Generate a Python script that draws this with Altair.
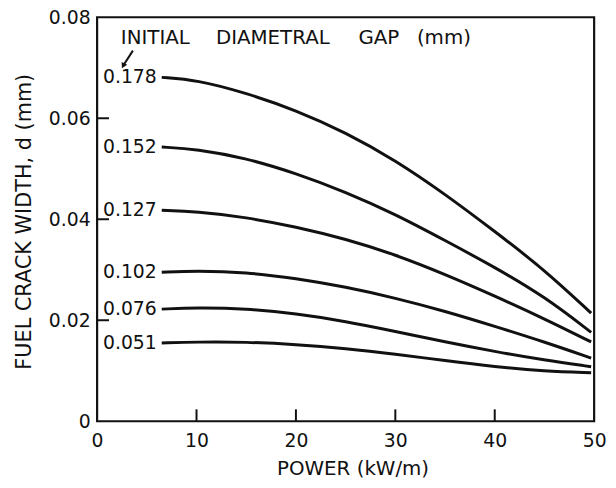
import altair as alt
import pandas as pd

# ---- data ----
power = [6.5, 10, 15, 20, 25, 30, 35, 40, 45, 49.7]
gaps = ["0.178", "0.152", "0.127", "0.102", "0.076", "0.051"]
w_178 = [0.0681, 0.0676, 0.0650, 0.0616, 0.0572, 0.0517, 0.0450, 0.0376, 0.0300, 0.0214]
w_152 = [0.0543, 0.0539, 0.0521, 0.0491, 0.0454, 0.0410, 0.0358, 0.0305, 0.0247, 0.0176]
w_127 = [0.0418, 0.0415, 0.0404, 0.0385, 0.0361, 0.0330, 0.0291, 0.0248, 0.0203, 0.0157]
w_102 = [0.0295, 0.0298, 0.0295, 0.0283, 0.0266, 0.0244, 0.0218, 0.0188, 0.0157, 0.0125]
w_076 = [0.0222, 0.0225, 0.0223, 0.0213, 0.0198, 0.0178, 0.0157, 0.0138, 0.0121, 0.0108]
w_051 = [0.0155, 0.0157, 0.0157, 0.0152, 0.0144, 0.0133, 0.0120, 0.0108, 0.0099, 0.0096]
series = [w_178, w_152, w_127, w_102, w_076, w_051]

x_ticks = [10, 20, 30, 40]
y_ticks = [0.02, 0.04, 0.06]

ann_words = ["INITIAL", "DIAMETRAL", "GAP", "(mm)"]
ann_x = [2.39, 11.95, 26.29, 32.17]
ann_y = [0.0747, 0.0747, 0.0747, 0.0747]

arrow_x = [3.6, 2.62]
arrow_y = [0.0734, 0.0704]

FONT = "DejaVu Sans"

rows = []
for g, vals in zip(gaps, series):
    for p, v in zip(power, vals):
        rows.append({"gap": g, "power": p, "width": v})
df = pd.DataFrame(rows)

lab_df = pd.DataFrame({"gap": gaps, "power": [power[0]] * len(gaps),
                       "width": [s[0] for s in series]})
ann_df = pd.DataFrame({"word": ann_words, "x": ann_x, "y": ann_y})
arrow_df = pd.DataFrame({"x": [arrow_x[0]], "y": [arrow_y[0]],
                         "x2": [arrow_x[1]], "y2": [arrow_y[1]]})
head_df = pd.DataFrame({"x": [arrow_x[1]], "y": [arrow_y[1]]})
xt_df = pd.DataFrame({"v": x_ticks})
yt_df = pd.DataFrame({"v": y_ticks})

xscale = alt.Scale(domain=[0, 50], nice=False, zero=False)
yscale = alt.Scale(domain=[0, 0.08], nice=False, zero=False)

xaxis = alt.Axis(
    values=[0, 10, 20, 30, 40, 50], format="d", grid=False, domain=False,
    ticks=False, tickSize=0, labelFont=FONT, labelFontSize=19,
    labelColor="#111", labelPadding=11, labelFlush=False,
    title="POWER (kW/m)", titleFont=FONT, titleFontSize=20,
    titleFontWeight="normal", titleColor="#111",
    titleBaseline="alphabetic", titleY=54, titleX=258,
)
yaxis = alt.Axis(
    values=[0, 0.02, 0.04, 0.06, 0.08], grid=False, domain=False,
    ticks=False, tickSize=0, labelFont=FONT, labelFontSize=19,
    labelColor="#111", labelPadding=7, labelFlush=False,
    labelExpr="datum.value == 0 ? '0' : format(datum.value, '.2f')",
    title="FUEL CRACK WIDTH, d (mm)", titleFont=FONT, titleFontSize=21,
    titleFontWeight="normal", titleColor="#111", titleAngle=270,
    titleBaseline="middle", titleAlign="center", titleX=-73, titleY=206,
)

base = alt.Chart(df)

lines = base.mark_line(color="#111", strokeWidth=3, interpolate="basis").encode(
    x=alt.X("power:Q", scale=xscale, axis=xaxis),
    y=alt.Y("width:Q", scale=yscale, axis=yaxis),
    detail="gap:N",
)

labels = alt.Chart(lab_df).mark_text(
    align="right", baseline="middle", dx=-5, font=FONT, fontSize=19, color="#111"
).encode(
    x=alt.X("power:Q", scale=xscale),
    y=alt.Y("width:Q", scale=yscale),
    text="gap:N",
)

ann = alt.Chart(ann_df).mark_text(
    align="left", baseline="alphabetic", font=FONT, fontSize=20, color="#111"
).encode(
    x=alt.X("x:Q", scale=xscale),
    y=alt.Y("y:Q", scale=yscale),
    text="word:N",
)

arrow = alt.Chart(arrow_df).mark_rule(color="#111", strokeWidth=2).encode(
    x=alt.X("x:Q", scale=xscale), y=alt.Y("y:Q", scale=yscale),
    x2="x2:Q", y2="y2:Q",
)
head = alt.Chart(head_df).mark_point(
    shape="triangle-down", filled=True, size=40, color="#111", angle=28, opacity=1
).encode(x=alt.X("x:Q", scale=xscale), y=alt.Y("y:Q", scale=yscale))

xt = alt.Chart(xt_df).mark_rule(color="#111", strokeWidth=2).encode(
    x=alt.X("v:Q", scale=xscale), y=alt.value(408), y2=alt.value(396)
)
yt = alt.Chart(yt_df).mark_rule(color="#111", strokeWidth=2).encode(
    y=alt.Y("v:Q", scale=yscale), x=alt.value(0), x2=alt.value(12)
)

chart = alt.layer(lines, labels, ann, arrow, head, xt, yt).properties(
    width=502, height=408,
    padding={"left": 90, "top": 7, "right": 14, "bottom": 57},
    autosize=alt.AutoSizeParams(type="none"),
    background="white",
).configure_view(stroke="#111", strokeWidth=2.2)

chart.save("out.html", embed_options={"renderer": "svg", "actions": False})
